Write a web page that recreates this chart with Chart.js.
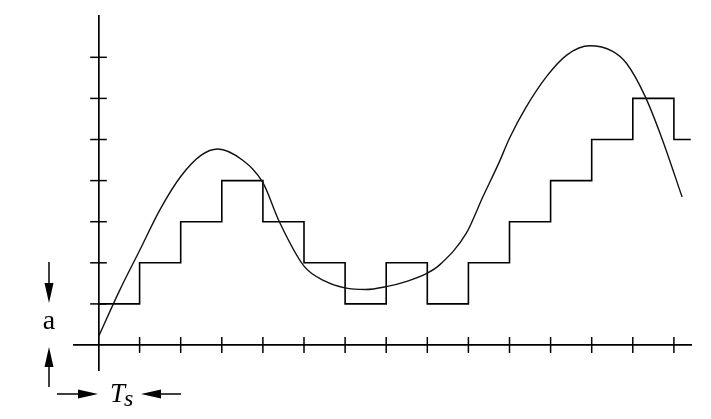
<!DOCTYPE html>
<html>
<head>
<meta charset="utf-8">
<script src="https://cdn.jsdelivr.net/npm/chart.js@4/dist/chart.umd.min.js"></script>
<style>
  html, body { margin: 0; padding: 0; background: #fff; }
  #wrap { width: 711px; height: 419px; }
</style>
</head>
<body>
<div id="wrap"><canvas id="myChart"></canvas></div>
<script>
// sample instants (in units of Ts) and the quantized staircase levels (in units of a)
var stepTimes = [0, 1, 2, 3, 4, 5, 6, 7, 8, 9, 10, 11, 12, 13, 14, 14.41];
var stepLevels = [1, 2, 3, 4, 3, 2, 1, 2, 1, 2, 3, 4, 5, 6, 5, 5];

// analog signal
var curveTimes = [0, 0.5, 1, 1.5, 2, 2.5, 2.9, 3.5, 4, 4.4, 5, 5.5, 6, 6.5, 7, 7.5, 8, 8.3, 8.95, 9.35, 9.75, 10, 10.4, 10.9, 11.4, 11.95, 12.5, 12.85, 13.3, 13.7, 14.2];
var curveValues = [0.2, 1.3, 2.3, 3.3, 4.1, 4.62, 4.77, 4.5, 3.95, 3.0, 1.92, 1.56, 1.39, 1.35, 1.42, 1.55, 1.75, 1.95, 2.72, 3.6, 4.45, 5.03, 5.78, 6.53, 7.06, 7.28, 7.15, 6.85, 6.05, 5.05, 3.6];

// tick marks on both axes
var xTicks = [1, 2, 3, 4, 5, 6, 7, 8, 9, 10, 11, 12, 13, 14];
var yTicks = [1, 2, 3, 4, 5, 6, 7];

function pts(xs, ys) {
    return xs.map(function (x, i) { return { x: x, y: ys[i] }; });
}

var serif = '"Liberation Serif", "Times New Roman", Times, "DejaVu Serif", serif';

// arrows and the "a" / "Ts" labels outside the plot
var labelsPlugin = {
    id: 'labels',
    afterDraw: function (chart) {
        var c = chart.ctx;
        c.save();
        c.strokeStyle = '#000';
        c.fillStyle = '#000';
        c.lineWidth = 1.5;

        function arrow(x1, y1, x2, y2) {
            // shaft from (x1,y1) toward tip (x2,y2)
            var dx = x2 - x1, dy = y2 - y1;
            var len = Math.sqrt(dx * dx + dy * dy);
            var ux = dx / len, uy = dy / len;
            var bx = x2 - ux * 20, by = y2 - uy * 20;
            c.beginPath();
            c.moveTo(x1, y1);
            c.lineTo(bx, by);
            c.stroke();
            c.beginPath();
            c.moveTo(x2, y2);
            c.lineTo(bx - uy * 4.5, by + ux * 4.5);
            c.lineTo(bx + uy * 4.5, by - ux * 4.5);
            c.closePath();
            c.fill();
        }

        arrow(49, 262, 49, 303);
        arrow(49, 387, 49, 347);
        arrow(57, 394, 98, 394);
        arrow(181, 394, 141, 394);

        c.textBaseline = 'alphabetic';
        c.textAlign = 'center';
        c.font = '28px ' + serif;
        c.fillText('a', 49, 329);

        c.textAlign = 'left';
        c.font = 'italic 27px ' + serif;
        c.fillText('T', 110, 402);
        c.font = 'italic 24px ' + serif;
        c.fillText('s', 124, 406);
        c.restore();
    }
};

var ctx = document.getElementById('myChart').getContext('2d');
var chart = new Chart(ctx, {
    type: 'line',
    data: {
        datasets: [{
            label: 'analog',
            data: pts(curveTimes, curveValues),
            borderColor: '#111',
            borderWidth: 1.4,
            pointRadius: 0,
            cubicInterpolationMode: 'monotone',
            fill: false
        }, {
            label: 'quantized',
            data: pts(stepTimes, stepLevels),
            borderColor: '#000',
            borderWidth: 1.6,
            pointRadius: 0,
            stepped: true,
            fill: false
        }, {
            label: 'x ticks',
            data: xTicks.map(function (t) { return { x: t, y: 0 }; }),
            showLine: false,
            pointStyle: 'line',
            rotation: 90,
            pointRadius: 8,
            borderColor: '#000',
            borderWidth: 1.5
        }, {
            label: 'y ticks',
            data: yTicks.map(function (t) { return { x: 0, y: t }; }),
            showLine: false,
            pointStyle: 'line',
            rotation: 0,
            pointRadius: 8.3,
            borderColor: '#000',
            borderWidth: 1.5
        }]
    },
    options: {
        responsive: true,
        maintainAspectRatio: false,
        animation: false,
        clip: false,
        layout: { padding: { left: 74, right: 20, top: 16, bottom: 49 } },
        plugins: {
            legend: { display: false },
            tooltip: { enabled: false }
        },
        scales: {
            x: {
                type: 'linear',
                min: -0.596,
                max: 14.416,
                position: { y: 0 },
                ticks: { display: false },
                grid: { display: false },
                border: { display: true, color: '#000', width: 1.7 }
            },
            y: {
                type: 'linear',
                min: -0.608,
                max: 8.005,
                position: { x: 0 },
                ticks: { display: false },
                grid: { display: false },
                border: { display: true, color: '#000', width: 1.7 }
            }
        }
    },
    plugins: [labelsPlugin]
});
</script>
</body>
</html>
